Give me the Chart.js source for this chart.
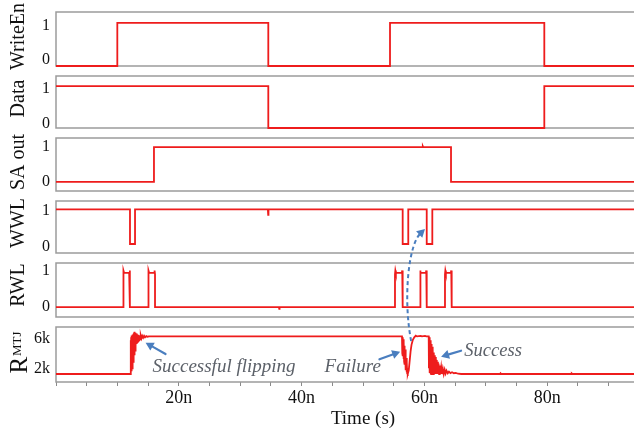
<!DOCTYPE html>
<html>
<head>
<meta charset="utf-8">
<title>MTJ write/read timing</title>
<script src="https://cdn.jsdelivr.net/npm/chart.js@4/dist/chart.umd.min.js"></script>
<style>
  html, body { margin: 0; padding: 0; overflow: hidden; background: #fff; }
  #wrap { position: relative; width: 634px; height: 432px; overflow: hidden; background: #fff; }
  #wrap canvas { position: absolute; left: 0; top: 0; }
</style>
</head>
<body>
<div id="wrap"></div>
<script>
// ---- axis ticks ----
const timeMinorStep = 5;                       // ns between minor tick marks
const timeTickValues = [20, 40, 60, 80];       // ns
const timeTickLabels = ['20n', '40n', '60n', '80n'];
const levelTicks = [0, 1];
const levelTickLabels = ['0', '1'];
const resistanceTicks = [2000, 6000];          // ohm
const resistanceTickLabels = ['2k', '6k'];

// ---- waveforms: [time (ns), value] ----
const writeEn = [[0, 0], [9.97, 0], [9.97, 1], [34.52, 1], [34.52, 0], [54.31, 0], [54.31, 1],
  [79.40, 1], [79.40, 0], [100, 0]];

const dataIn = [[0, 1], [34.52, 1], [34.52, 0], [79.40, 0], [79.40, 1], [100, 1]];

const saOut = [[0, 0], [15.93, 0], [15.93, 1], [55.80, 1], [55.85, 1.02], [55.90, 1], [59.60, 1],
  [59.65, 1.02], [59.70, 1], [64.23, 1], [64.23, 0], [100, 0]];

const wwl = [[0, 1], [12.03, 1], [12.03, 0], [12.85, 0], [12.85, 1], [34.45, 1], [34.50, 0.84],
  [34.55, 1], [56.37, 1], [56.37, 0], [57.28, 0], [57.28, 1], [60.28, 1], [60.28, 0], [61.19, 0],
  [61.19, 1], [100, 1]];

const rwl = [[0, 0],
  [10.94, 0], [10.94, 0.96], [11.00, 1.07], [11.08, 1.0], [11.90, 1.0], [11.97, 1.07], [12.03, 0.96], [12.03, 0],
  [15.01, 0], [15.01, 0.96], [15.07, 1.07], [15.15, 1.0], [15.96, 1.0], [16.03, 1.07], [16.10, 0.96], [16.10, 0],
  [36.25, 0], [36.30, -0.05], [36.35, 0],
  [55.12, 0], [55.12, 0.96], [55.18, 1.07], [55.26, 1.0], [56.23, 1.0], [56.30, 1.07], [56.37, 0.96], [56.37, 0],
  [59.19, 0], [59.19, 0.96], [59.25, 1.07], [59.33, 1.0], [60.14, 1.0], [60.21, 1.07], [60.28, 0.96], [60.28, 0],
  [63.25, 0], [63.25, 0.96], [63.31, 1.07], [63.39, 1.0], [64.20, 1.0], [64.27, 1.07], [64.34, 0.96], [64.34, 0],
  [100, 0]];

// MTJ resistance (ohm): switching to 6k, failed write, successful write back to 2k
const rMtj = [[0, 2000], [12.10, 2000],
  [12.15, 2000], [12.18, 5600], [12.21, 2100], [12.24, 5900], [12.27, 2300], [12.30, 6100], [12.33, 2400],
  [12.36, 5800], [12.39, 2600], [12.42, 6000], [12.45, 2900], [12.48, 6200], [12.51, 3100], [12.54, 5900],
  [12.57, 3300], [12.60, 6300], [12.63, 3600], [12.66, 6000], [12.69, 3800], [12.72, 6400], [12.75, 4000],
  [12.78, 6100], [12.81, 4300], [12.84, 6500], [12.87, 4500], [12.90, 6200], [12.94, 4800], [12.98, 6400],
  [13.02, 5000], [13.07, 6200], [13.12, 5200], [13.18, 6300], [13.24, 5400], [13.30, 6200], [13.37, 5500],
  [13.44, 6150], [13.52, 5600], [13.60, 6100], [13.70, 5700], [13.80, 6100], [13.92, 5800], [14.05, 6050],
  [14.20, 5850], [14.35, 6050], [14.50, 5900], [14.70, 6030], [14.90, 5950], [15.10, 6000],
  [56.35, 6000], [56.40, 4200], [56.45, 5900], [56.50, 3900], [56.55, 5700], [56.60, 3600], [56.65, 5400],
  [56.70, 3300], [56.75, 5000], [56.80, 3000], [56.85, 4600], [56.90, 2700], [56.95, 4200], [57.00, 2400],
  [57.05, 3700], [57.10, 2200], [57.15, 3200], [57.20, 2050], [57.25, 2600], [57.32, 2000], [57.45, 2400],
  [57.60, 3400], [57.75, 4400], [57.90, 5100], [58.10, 5600], [58.35, 5900], [58.60, 6080], [58.80, 6000],
  [59.40, 6060], [59.60, 6000], [60.10, 6050], [60.30, 6000],
  [60.70, 6000], [60.74, 2600], [60.78, 5900], [60.82, 2300], [60.86, 5800], [60.90, 2100], [60.95, 5600],
  [61.00, 2000], [61.05, 5400], [61.10, 2000], [61.15, 5200], [61.20, 2000], [61.26, 4900], [61.32, 2000],
  [61.38, 4600], [61.44, 2000], [61.50, 4300], [61.56, 2000], [61.63, 4000], [61.70, 2000], [61.78, 3800],
  [61.86, 2000], [61.94, 3500], [62.02, 2000], [62.10, 3300], [62.20, 2000], [62.30, 3100], [62.40, 2000],
  [62.50, 2900], [62.62, 2000], [62.74, 2700], [62.86, 2000], [63.00, 2550], [63.15, 2000], [63.30, 2450],
  [63.45, 2050], [63.60, 2350], [63.80, 2080], [64.00, 2250], [64.25, 2100], [64.50, 2180], [64.80, 2080],
  [65.10, 2120], [65.50, 2030], [66.00, 2000],
  [72.30, 2000], [72.40, 2080], [72.50, 2000], [83.90, 2000], [84.00, 2060], [84.10, 2000], [100, 2000]];

// ---- callouts in the resistance panel: anchors are (time ns, ohm) ----
const noteLabels = [
  { text: 'Successful flipping', t: 15.72, v: 2246, size: 19 },
  { text: 'Failure', t: 43.74, v: 2246, size: 19 },
  { text: 'Success', t: 66.5, v: 3947, size: 18.5 }
];
const noteArrows = [
  { from: [17.84, 4128], to: [14.59, 5330] },
  { from: [52.68, 3564], to: [56.05, 4373] },
  { from: [65.97, 4479], to: [62.72, 3841] }
];
// dashed link from the failed write up to the WWL retry pulse
const retryLink = { from: [57.84, 5511], to: [60.0, 0.43] };

// ---- drawing ----
const SERIF = '"Liberation Serif", "Times New Roman", serif';
const RED = '#ee1c1c';
const FRAME = '#9c9c9c';
const BLUE = '#4a7ebf';
const NOTE_GRAY = '#5c6169';
const W = 671, H = 432;

// labelShift: vertical nudge (px) of each tick label, in tick order
const panels = [
  { id: 'writeEn', title: 'WriteEn', series: writeEn, top: 12, bottom: 66, min: 0, max: 1.25, dy: -2.5, labelShift: [-6, 2.5] },
  { id: 'data', title: 'Data', series: dataIn, top: 76, bottom: 128, min: 0, max: 1.24, dy: -3.5, labelShift: [-4.5, 2.5] },
  { id: 'saOut', title: 'SA out', series: saOut, top: 138, bottom: 191, min: -0.26, max: 1.26, dy: -2.5, labelShift: [0, 0] },
  { id: 'wwl', title: 'WWL', series: wwl, top: 201, bottom: 253, min: -0.26, max: 1.24, dy: -4, labelShift: [3, 1.5] },
  { id: 'rwl', title: 'RWL', series: rwl, top: 263, bottom: 317, min: -0.29, max: 1.29, dy: -5, labelShift: [0, -2] },
  { id: 'rMtj', title: 'R', sub: 'MTJ', series: rMtj, top: 327, bottom: 382, min: 1150, max: 7000, dy: -2,
    ticks: resistanceTicks, tickLabels: resistanceTickLabels, labelShift: [-5.5, 2] }
];

const framePlugin = {
  id: 'panelFrame',
  beforeDatasetsDraw(chart) {
    const { ctx, chartArea: a } = chart;
    ctx.save();
    ctx.strokeStyle = FRAME;
    ctx.lineWidth = 1.5;
    ctx.beginPath();
    ctx.moveTo(a.right, a.top);
    ctx.lineTo(a.left, a.top);
    ctx.lineTo(a.left, a.bottom);
    ctx.lineTo(a.right, a.bottom);
    ctx.stroke();
    ctx.restore();
  }
};

const yTitlePlugin = {
  id: 'yTitle',
  afterDraw(chart, args, opts) {
    const { ctx, chartArea: a } = chart;
    const cy = (a.top + a.bottom) / 2 + opts.dy;
    ctx.save();
    ctx.fillStyle = '#111';
    ctx.textBaseline = 'alphabetic';
    if (!opts.sub) {
      ctx.translate(24, cy);
      ctx.rotate(-Math.PI / 2);
      ctx.font = '20px ' + SERIF;
      ctx.textAlign = 'center';
      ctx.fillText(opts.text, 0, 0);
    } else {
      ctx.translate(26.5, cy);
      ctx.rotate(-Math.PI / 2);
      ctx.textAlign = 'left';
      ctx.font = '25px ' + SERIF;
      const w1 = ctx.measureText(opts.text).width;
      ctx.font = '13px ' + SERIF;
      const w2 = ctx.measureText(opts.sub).width;
      const x0 = -(w1 + 1 + w2) / 2;
      ctx.font = '25px ' + SERIF;
      ctx.fillText(opts.text, x0, 0);
      ctx.font = '13px ' + SERIF;
      ctx.fillText(opts.sub, x0 + w1 + 1, -5.5);
    }
    ctx.restore();
  }
};

function arrowHead(ctx, x1, y1, ang, len, half) {
  const bx = x1 - len * Math.cos(ang), by = y1 - len * Math.sin(ang);
  ctx.beginPath();
  ctx.moveTo(x1, y1);
  ctx.lineTo(bx + half * Math.sin(ang), by - half * Math.cos(ang));
  ctx.lineTo(bx - half * Math.sin(ang), by + half * Math.cos(ang));
  ctx.closePath();
  ctx.fill();
  return [bx, by];
}

const charts = {};

const notesPlugin = {
  id: 'notes',
  afterDraw(chart) {
    const { ctx } = chart;
    const xs = chart.scales.x, ys = chart.scales.y;
    const P = (t, v) => [xs.getPixelForValue(t), ys.getPixelForValue(v)];
    ctx.save();
    ctx.fillStyle = NOTE_GRAY;
    ctx.textAlign = 'left';
    ctx.textBaseline = 'alphabetic';
    noteLabels.forEach(n => {
      const [x, y] = P(n.t, n.v);
      ctx.font = 'italic ' + n.size + 'px ' + SERIF;
      ctx.fillText(n.text, x, y);
    });
    ctx.strokeStyle = BLUE;
    ctx.fillStyle = BLUE;
    ctx.lineWidth = 2.2;
    ctx.lineCap = 'round';
    noteArrows.forEach(a => {
      const [x0, y0] = P(a.from[0], a.from[1]);
      const [x1, y1] = P(a.to[0], a.to[1]);
      const ang = Math.atan2(y1 - y0, x1 - x0);
      const [bx, by] = arrowHead(ctx, x1, y1, ang, 8, 4.5);
      ctx.beginPath();
      ctx.moveTo(x0, y0);
      ctx.lineTo(bx, by);
      ctx.stroke();
    });
    const w = charts.wwl;
    if (w) {
      const [sx, sy] = P(retryLink.from[0], retryLink.from[1]);
      const ex = w.scales.x.getPixelForValue(retryLink.to[0]);
      const ey = w.scales.y.getPixelForValue(retryLink.to[1]);
      const c1x = sx - 8, c1y = sy - 41;
      const c2x = ex - 17, c2y = ey + 16;
      const ang = Math.atan2(ey - c2y, ex - c2x);
      ctx.lineWidth = 2;
      ctx.lineCap = 'butt';
      ctx.setLineDash([4, 3]);
      ctx.beginPath();
      ctx.moveTo(sx, sy);
      ctx.bezierCurveTo(c1x, c1y, c2x, c2y, ex - 6 * Math.cos(ang), ey - 6 * Math.sin(ang));
      ctx.stroke();
      ctx.setLineDash([]);
      arrowHead(ctx, ex, ey, ang, 8, 4.5);
    }
    ctx.restore();
  }
};

const wrap = document.getElementById('wrap');

panels.forEach((p, i) => {
  const isLast = i === panels.length - 1;
  const tickVals = p.ticks || levelTicks;
  const tickText = p.tickLabels || levelTickLabels;
  const shift = p.labelShift;
  const cv = document.createElement('canvas');
  cv.width = W;
  cv.height = H;
  cv.style.width = W + 'px';
  cv.style.height = H + 'px';
  wrap.appendChild(cv);

  const xScale = isLast ? {
    type: 'linear', position: 'bottom', min: 0, max: 100,
    afterFit: s => { s.height = H - p.bottom; },
    ticks: {
      stepSize: timeMinorStep, autoSkip: false, maxRotation: 0, minRotation: 0,
      padding: 1, color: '#111', font: { family: SERIF, size: 18 },
      callback: v => { const k = timeTickValues.indexOf(v); return k < 0 ? '' : timeTickLabels[k]; }
    },
    grid: { display: true, drawOnChartArea: false, drawTicks: true, tickLength: 4, color: '#8a8a8a', lineWidth: 1 },
    border: { display: false },
    title: { display: true, text: 'Time (s)', color: '#111', font: { family: SERIF, size: 19 }, padding: { top: 0, bottom: 2 } }
  } : { type: 'linear', min: 0, max: 100, display: false };

  charts[p.id] = new Chart(cv, {
    type: 'line',
    data: {
      datasets: [{
        data: p.series.map(([x, y]) => ({ x, y })),
        borderColor: RED, borderWidth: 1.8, pointRadius: 0, tension: 0, fill: false, clip: false
      }]
    },
    options: {
      responsive: false, maintainAspectRatio: false, animation: false, devicePixelRatio: 1, events: [],
      layout: { padding: { top: p.top, bottom: isLast ? 0 : H - p.bottom, left: 0, right: 0 } },
      plugins: {
        legend: { display: false },
        tooltip: { enabled: false },
        yTitle: { text: p.title, sub: p.sub, dy: p.dy }
      },
      scales: {
        x: xScale,
        y: {
          type: 'linear', min: p.min, max: p.max,
          afterBuildTicks: s => { s.ticks = tickVals.map(v => ({ value: v })); },
          afterFit: s => { s.width = 56; },
          ticks: {
            autoSkip: false, padding: 6, color: '#111',
            // a blank companion line moves the label up (blank below) or down (blank above)
            font: c => ({ family: SERIF, size: 16, lineHeight: Math.max(2 * Math.abs(shift[c.index] || 0), 1) + 'px' }),
            callback: (v, k) => {
              const t = tickText[tickVals.indexOf(v)];
              const s = shift[k] || 0;
              if (!s) return t;
              return s < 0 ? [t, ''] : ['', t];
            }
          },
          grid: { display: false, drawTicks: false },
          border: { display: false }
        }
      }
    },
    plugins: isLast ? [framePlugin, yTitlePlugin, notesPlugin] : [framePlugin, yTitlePlugin]
  });
});
</script>
</body>
</html>
